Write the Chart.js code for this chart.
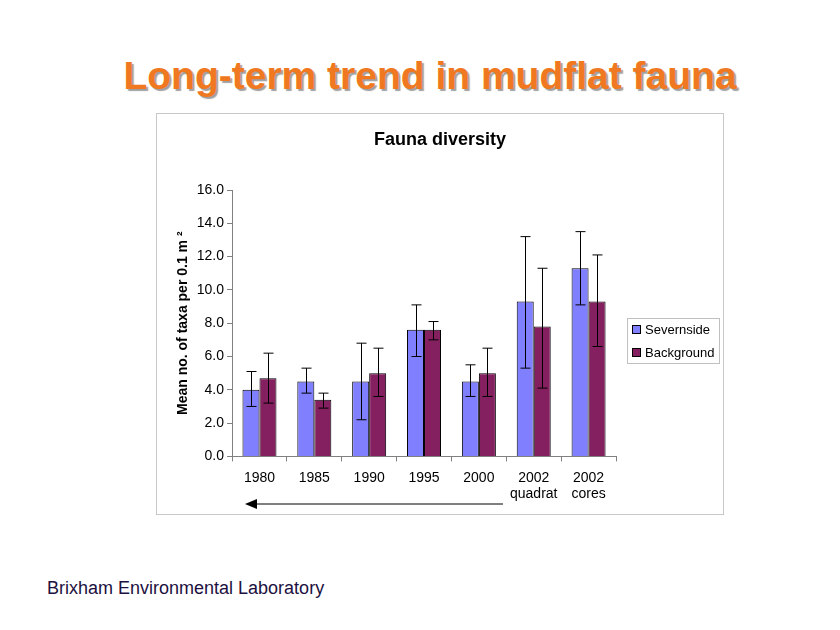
<!DOCTYPE html>
<html>
<head>
<meta charset="utf-8">
<script src="https://cdn.jsdelivr.net/npm/chart.js@4"></script>
<style>
  body { margin: 0; width: 840px; height: 630px; background: #fff; position: relative; font-family: "Liberation Sans", Arial, sans-serif; }
  #title { position: absolute; left: 0; width: 860px; top: 54px; text-align: center; font-size: 39px; font-weight: bold; color: #f07820; text-shadow: 2px 2px 1px #a0a0a0; }
  #box { position: absolute; left: 156px; top: 113px; width: 566px; height: 400px; border: 1px solid #c8c8c8; }
  #foot { position: absolute; left: 47px; top: 578px; font-size: 18px; color: #201040; }
</style>
</head>
<body>
<div id="title">Long-term trend in mudflat fauna</div>
<div id="box"><canvas id="myChart" width="566" height="400"></canvas></div>
<div id="foot">Brixham Environmental Laboratory</div>
<script>
const categories = ["1980", "1985", "1990", "1995", "2000", ["2002", "quadrat"], ["2002", "cores"]];
const severnside = [4.0, 4.5, 4.5, 7.6, 4.5, 9.3, 11.3];
const severnsideLow = [3.0, 3.8, 2.2, 6.0, 3.6, 5.3, 9.1];
const severnsideHigh = [5.1, 5.3, 6.8, 9.1, 5.5, 13.2, 13.5];
const background = [4.7, 3.4, 5.0, 7.6, 5.0, 7.8, 9.3];
const backgroundLow = [3.2, 2.9, 3.6, 7.0, 3.6, 4.1, 6.6];
const backgroundHigh = [6.2, 3.8, 6.5, 8.1, 6.5, 11.3, 12.1];
const yTicks = [0, 2, 4, 6, 8, 10, 12, 14, 16];

// titre, barres d'erreur, légende et flèche
const extras = {
  id: "extras",
  afterDatasetsDraw(chart) {
    const c = chart.ctx;
    const y = chart.scales.y;
    const ranges = [[severnsideLow, severnsideHigh], [backgroundLow, backgroundHigh]];
    c.save();
    c.fillStyle = "#000";
    c.font = "bold 18px 'Liberation Sans', Arial";
    c.textAlign = "center";
    c.textBaseline = "middle";
    c.fillText("Fauna diversity", 283, 26);
    c.textAlign = "left";
    c.strokeStyle = "#000";
    c.lineWidth = 1;
    ranges.forEach((r, di) => {
      chart.getDatasetMeta(di).data.forEach((bar, i) => {
        const x = Math.round(bar.x) + 0.5;
        const lo = y.getPixelForValue(r[0][i]);
        const hi = y.getPixelForValue(r[1][i]);
        c.beginPath();
        c.moveTo(x, lo); c.lineTo(x, hi);
        c.moveTo(x - 5, lo); c.lineTo(x + 5, lo);
        c.moveTo(x - 5, hi); c.lineTo(x + 5, hi);
        c.stroke();
      });
    });
    // légende
    const lx = 470, ly = 204;
    c.strokeStyle = "#c0c0c0";
    c.strokeRect(lx + 0.5, ly + 0.5, 92, 45);
    c.font = "13px 'Liberation Sans', Arial";
    chart.data.datasets.forEach((ds, i) => {
      const yy = ly + 12 + i * 23;
      c.fillStyle = ds.backgroundColor;
      c.fillRect(lx + 5, yy - 5, 9, 9);
      c.strokeStyle = "#000";
      c.strokeRect(lx + 5.5, yy - 4.5, 8, 8);
      c.fillStyle = "#000";
      c.fillText(ds.label, lx + 18, yy);
    });
    // flèche
    const ay = 390;
    c.beginPath();
    c.moveTo(346, ay); c.lineTo(95, ay);
    c.stroke();
    c.beginPath();
    c.moveTo(88, ay); c.lineTo(100, ay - 5); c.lineTo(100, ay + 5); c.closePath();
    c.fill();
    c.restore();
  }
};

const ctx = document.getElementById("myChart").getContext("2d");
const chart = new Chart(ctx, {
  type: "bar",
  data: {
    labels: categories,
    datasets: [
      { label: "Severnside", data: severnside, backgroundColor: "#8080ff", borderColor: "#000", borderWidth: 1 },
      { label: "Background", data: background, backgroundColor: "#852060", borderColor: "#000", borderWidth: 1 }
    ]
  },
  plugins: [extras],
  options: {
    responsive: false,
    animation: false,
    layout: { padding: { left: 16, right: 107, top: 76, bottom: 3 } },
    categoryPercentage: 0.62,
    barPercentage: 1,
    plugins: {
      legend: { display: false },
      tooltip: { enabled: false }
    },
    scales: {
      x: {
        grid: { display: true, drawOnChartArea: false, offset: true, tickLength: 5, color: "#808080" },
        border: { color: "#808080" },
        ticks: { color: "#000", font: { family: "'Liberation Sans', Arial", size: 14 }, maxRotation: 0, padding: 8 }
      },
      y: {
        min: 0, max: 16,
        afterBuildTicks: (s) => { s.ticks = yTicks.map(v => ({ value: v })); },
        grid: { display: true, drawOnChartArea: false, tickLength: 5, color: "#808080" },
        border: { color: "#808080" },
        ticks: { color: "#000", font: { family: "'Liberation Sans', Arial", size: 14 }, callback: v => v.toFixed(1) },
        title: { display: true, text: "Mean no. of taxa per 0.1 m ²", color: "#000", font: { family: "'Liberation Sans', Arial", size: 14, weight: "bold" }, padding: 2 }
      }
    }
  }
});
</script>
</body>
</html>
